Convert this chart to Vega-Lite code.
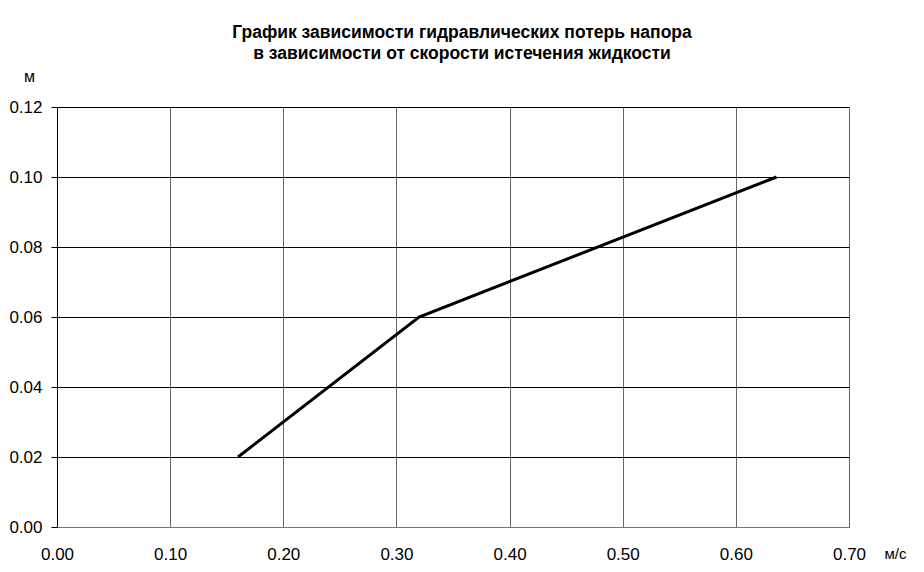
{
  "$schema": "https://vega.github.io/schema/vega-lite/v6.json",
  "width": 792,
  "height": 420,
  "autosize": {"type": "none"},
  "padding": {"left": 57, "top": 107, "right": 75, "bottom": 45},
  "background": "white",
  "config": {"view": {"stroke": null}, "font": "Liberation Sans"},
  "title": {
    "text": ["График зависимости гидравлических потерь напора", "в зависимости от скорости истечения жидкости"],
    "fontSize": 17.5,
    "fontWeight": "bold",
    "font": "Liberation Sans",
    "color": "black",
    "lineHeight": 21,
    "anchor": "middle",
    "dx": 9,
    "offset": 6
  },
  "data": {"values": [
    {"v": 0.16, "h": 0.02},
    {"v": 0.32, "h": 0.06},
    {"v": 0.636, "h": 0.10}
  ]},
  "mark": {"type": "line", "color": "black", "strokeWidth": 3},
  "encoding": {
    "x": {
      "field": "v", "type": "quantitative",
      "scale": {"domain": [0, 0.7], "nice": false, "zero": true},
      "axis": {
        "values": [0, 0.1, 0.2, 0.3, 0.4, 0.5, 0.6, 0.7],
        "format": ".2f",
        "ticks": false,
        "labelPadding": 19,
        "labelFontSize": 17,
        "labelColor": "black",
        "labelFont": "Liberation Sans",
        "labelFlush": false,
        "domainColor": "#777",
        "gridColor": "#666",
        "gridOpacity": 1,
        "title": "м/с",
        "titleFontSize": 15,
        "titleFontWeight": "normal",
        "titleColor": "black",
        "titleX": 838,
        "titleY": 26,
        "titleAlign": "center",
        "titleBaseline": "middle"
      }
    },
    "y": {
      "field": "h", "type": "quantitative",
      "scale": {"domain": [0, 0.12], "nice": false},
      "axis": {
        "values": [0, 0.02, 0.04, 0.06, 0.08, 0.1, 0.12],
        "format": ".2f",
        "tickSize": 6,
        "tickColor": "black",
        "labelPadding": 9,
        "labelFontSize": 17,
        "labelColor": "black",
        "labelFont": "Liberation Sans",
        "labelFlush": false,
        "domainColor": "black",
        "gridColor": "black",
        "gridOpacity": 1,
        "title": "м",
        "titleAngle": 0,
        "titleFontSize": 16,
        "titleFontWeight": "normal",
        "titleColor": "black",
        "titleX": -28,
        "titleY": -31,
        "titleAlign": "center",
        "titleBaseline": "middle"
      }
    }
  }
}
